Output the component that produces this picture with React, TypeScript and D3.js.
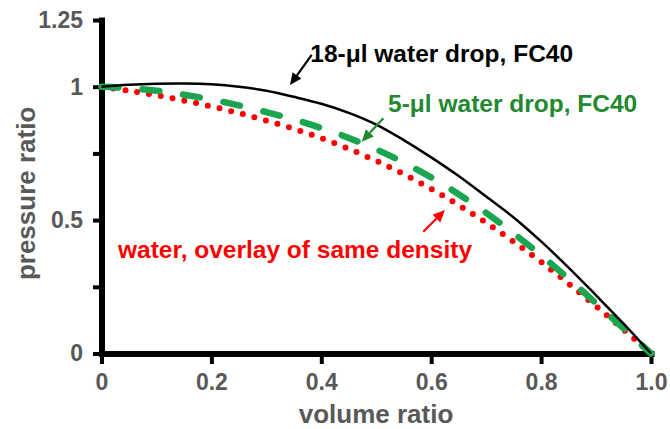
import { useEffect, useRef } from "react";
import * as d3 from "d3";

// volume ratio samples (x)
const volumeRatio = [0, 0.05, 0.1, 0.15, 0.2, 0.25, 0.3, 0.35, 0.4, 0.45, 0.5, 0.55, 0.6, 0.65, 0.7, 0.75, 0.8, 0.85, 0.9, 0.95, 1.0];

// pressure ratio
const drop18FC40 = [1.0, 1.007, 1.011, 1.012, 1.009, 1.0, 0.985, 0.962, 0.936, 0.902, 0.858, 0.8, 0.735, 0.665, 0.588, 0.51, 0.42, 0.322, 0.218, 0.112, 0.0];
const drop5FC40 = [1.0, 0.995, 0.985, 0.97, 0.952, 0.93, 0.905, 0.877, 0.845, 0.808, 0.765, 0.716, 0.66, 0.597, 0.527, 0.45, 0.368, 0.28, 0.188, 0.094, 0.0];
const waterOverlay = [1.0, 0.985, 0.968, 0.948, 0.926, 0.901, 0.873, 0.842, 0.807, 0.767, 0.722, 0.672, 0.617, 0.556, 0.49, 0.419, 0.343, 0.262, 0.177, 0.09, 0.0];

const xTicks = [0, 0.2, 0.4, 0.6, 0.8, 1.0];
const xTickLabels = ["0", "0.2", "0.4", "0.6", "0.8", "1.0"];
const yTicks = [0, 0.25, 0.5, 0.75, 1, 1.25];
const yTickLabels = ["0", "", "0.5", "", "1", "1.25"];

// annotation labels and arrows, in data units: [textX, textY], arrow [fromX, fromY, toX, toY]
const annotLabels = ["18-μl water drop, FC40", "5-μl water drop, FC40", "water, overlay of same density"];
const annotText = [[0.38, 1.093], [0.5215, 0.906], [0.03, 0.358]];
const annotArrow = [[0.3825, 1.119, 0.343, 1.006], [0.513, 0.8815, 0.4735, 0.794], [0.5856, 0.4565, 0.625, 0.5375]];

const FONT = "'Liberation Sans', Arial, Helvetica, sans-serif";
const GREY = "#595959";
const BLACK = "#000000";
const GREEN_LINE = "#1aa650";
const GREEN_TEXT = "#23882f";
const RED = "#ff0000";
const annotColors = [BLACK, GREEN_TEXT, RED];

const W = 670;
const H = 429;

export default function App() {
  const xAxisRef = useRef<SVGGElement>(null);
  const yAxisRef = useRef<SVGGElement>(null);

  const x = d3.scaleLinear().domain([0, 1]).range([101.5, 651]);
  const y = d3.scaleLinear().domain([0, 1.25]).range([353.5, 20]);

  useEffect(() => {
    if (!xAxisRef.current || !yAxisRef.current) return;

    const yAxis = d3
      .axisLeft(y)
      .tickValues(yTicks)
      .tickFormat((_d, i) => yTickLabels[i])
      .tickSize(8.5)
      .tickSizeOuter(0)
      .tickPadding(10);
    const gy = d3.select(yAxisRef.current);
    gy.selectAll("*").remove();
    gy.call(yAxis);

    const xAxis = d3
      .axisBottom(x)
      .tickValues(xTicks)
      .tickFormat((_d, i) => xTickLabels[i])
      .tickSize(10.5)
      .tickSizeOuter(0)
      .tickPadding(9.5);
    const gx = d3.select(xAxisRef.current);
    gx.selectAll("*").remove();
    gx.call(xAxis);

    [gx, gy].forEach((g) => {
      g.select(".domain").attr("stroke", BLACK).attr("stroke-width", 6).attr("stroke-linecap", "square");
      g.selectAll(".tick line").attr("stroke", BLACK).attr("stroke-width", 4);
      g.selectAll(".tick text")
        .attr("fill", GREY)
        .style("font-family", FONT)
        .style("font-size", "23px")
        .style("font-weight", "bold");
    });
  }, []);

  const line = d3
    .line<number>()
    .x((_d, i) => x(volumeRatio[i]))
    .y((d) => y(d))
    .curve(d3.curveCatmullRom.alpha(0.5));

  const arrows = annotArrow.map(([x1, y1, x2, y2], i) => {
    const ax = x(x1), ay = y(y1), bx = x(x2), by = y(y2);
    const ang = Math.atan2(by - ay, bx - ax);
    const len = 12, hw = 5.5;
    const baseX = bx - len * Math.cos(ang), baseY = by - len * Math.sin(ang);
    const px = -Math.sin(ang) * hw, py = Math.cos(ang) * hw;
    return (
      <g key={i}>
        <line x1={ax} y1={ay} x2={baseX} y2={baseY} stroke={annotColors[i]} strokeWidth={2.2} />
        <polygon
          points={`${bx},${by} ${baseX + px},${baseY + py} ${baseX - px},${baseY - py}`}
          fill={annotColors[i]}
        />
      </g>
    );
  });

  return (
    <svg width={W} height={H} style={{ position: "absolute", left: 0, top: 0, background: "#fff" }}>
      <g ref={yAxisRef} transform={`translate(${x(0)},0)`} />
      <g ref={xAxisRef} transform={`translate(0,${y(0)})`} />

      {/* curves */}
      <path d={line(waterOverlay) ?? ""} fill="none" stroke={RED} strokeWidth={6} strokeDasharray="0 12" strokeLinecap="round" />
      <path d={line(drop5FC40) ?? ""} fill="none" stroke={GREEN_LINE} strokeWidth={6.5} strokeDasharray="17 24" strokeLinecap="round" />
      <path d={line(drop18FC40) ?? ""} fill="none" stroke={BLACK} strokeWidth={2.5} />

      {/* annotations */}
      {arrows}
      {annotLabels.map((t, i) => (
        <text
          key={t}
          x={x(annotText[i][0])}
          y={y(annotText[i][1])}
          fill={annotColors[i]}
          fontFamily={FONT}
          fontWeight="bold"
          fontSize={24.5}
        >
          {t}
        </text>
      ))}

      {/* axis titles */}
      <text x={376} y={423} textAnchor="middle" fill={GREY} fontFamily={FONT} fontWeight="bold" fontSize={26}>
        volume ratio
      </text>
      <text
        transform={`translate(35,${y(0.6)}) rotate(-90)`}
        textAnchor="middle"
        fill={GREY}
        fontFamily={FONT}
        fontWeight="bold"
        fontSize={26}
      >
        pressure ratio
      </text>
    </svg>
  );
}
